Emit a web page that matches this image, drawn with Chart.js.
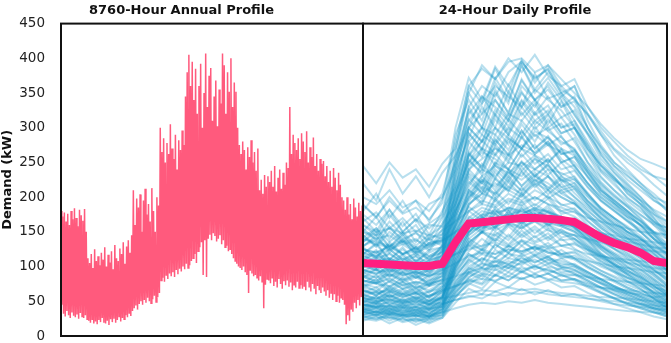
<!DOCTYPE html>
<html>
<head>
<meta charset="utf-8">
<script src="https://cdn.jsdelivr.net/npm/chart.js@4.4.1/dist/chart.umd.min.js"></script>
<style>
  body { margin: 0; background: #fff; }
  #wrap { position: relative; width: 671px; height: 343px; }
  #annual { position: absolute; left: 0; top: 0; }
  #daily { position: absolute; left: 362px; top: 0; }
</style>
</head>
<body>
<div id="wrap">
  <canvas id="annual" width="364" height="343"></canvas>
  <canvas id="daily" width="309" height="343"></canvas>
</div>
<script>
// annual profile, read as pairs of (peak, trough) roughly every two days
const annualHigh = [
  180,172,178,165,176,160,180,168,184,170,158,182,174,166,183,150,
  112,105,118,98,125,108,115,102,120,110,128,100,117,106,122,96,131,112,108,126,118,135,104,129,138,120,
  145,210,160,198,185,204,150,195,212,175,190,165,213,180,150,200,188,
  300,265,285,250,278,262,305,270,255,290,240,282,268,296,275,345,
  380,405,360,395,340,385,320,360,392,300,350,407,330,375,386,310,345,368,302,355,335,407,390,320,380,352,400,330,365,352,300,
  275,262,280,268,240,272,258,282,250,265,238,270,210,225,205,232,215,
  230,222,238,215,245,208,228,240,212,235,218,250,242,330,262,290,278,268,285,255,292,
  280,265,295,250,272,258,286,245,262,238,255,248,
  252,230,245,222,238,215,242,228,210,235,218,200,
  195,182,200,175,190,168,198,185,172,192,180,188
];
const annualLow = [
  45,32,28,36,30,26,34,29,27,31,25,33,28,26,30,24,
  22,19,24,18,21,17,23,20,26,19,18,22,16,24,20,25,19,23,28,21,26,24,30,27,33,29,
  36,40,44,38,46,50,45,52,48,55,50,47,53,58,49,56,62,
  80,84,78,88,82,90,86,92,85,95,89,97,93,100,96,104,
  98,102,108,112,118,105,122,128,135,88,138,85,140,146,138,148,144,136,140,145,132,138,128,130,122,125,118,112,108,104,100,
  98,95,100,92,88,62,94,90,86,88,84,80,86,78,40,74,82,
  80,76,84,72,78,70,82,75,68,79,73,80,71,77,66,74,70,78,69,73,68,
  72,66,78,70,64,75,68,60,72,66,62,70,
  64,58,66,55,62,52,60,50,58,48,55,52,
  45,17,30,22,38,35,48,40,52,44,56,50
];

const hours = ['0','1','2','3','4','5','6','7','8','9','10','11','12','13','14','15','16','17','18','19','20','21','22','23'];

// average day
const meanDay = [105,104,103,102,101,101,104,135,162,164,166,168,170,170,169,167,164,153,142,134,128,120,108,105];

// individual days (a sample of the 365 thin lines)
const dailyProfiles = [
  [150,140,145,132,138,130,142,250,330,360,345,380,395,370,385,350,330,300,260,240,220,200,180,165],
  [130,138,125,132,120,128,135,220,300,320,340,310,350,330,365,340,310,280,250,230,205,190,170,150],
  [160,150,155,148,152,145,158,270,350,390,370,400,380,405,375,360,340,320,290,260,240,220,200,180],
  [120,115,125,110,118,112,122,200,280,300,290,320,310,335,300,315,290,260,230,210,190,175,160,140],
  [140,132,128,136,125,130,138,240,310,335,360,345,330,355,340,325,300,275,240,225,210,195,175,155],
  [110,118,105,112,100,108,115,190,260,290,275,300,285,310,295,280,270,240,215,195,180,160,145,125],
  [200,190,210,185,195,180,205,280,360,385,370,395,400,380,390,370,350,330,300,280,260,245,230,215],
  [125,120,130,118,128,115,126,230,320,345,330,310,360,340,320,345,320,290,255,235,215,195,170,145],
  [175,160,182,150,168,155,172,290,340,310,365,335,390,350,372,345,360,310,275,250,232,215,196,182],
  [135,150,128,145,122,140,130,235,285,330,300,352,318,340,305,338,300,268,238,222,198,186,160,148],
  [145,128,150,135,140,122,148,260,300,345,318,362,330,378,342,350,318,292,262,236,218,200,178,160],
  [118,132,110,125,108,120,128,210,265,242,290,268,305,280,312,286,268,244,220,200,186,168,150,134],
  [165,178,155,170,150,162,175,255,325,300,350,322,368,340,355,330,338,300,272,250,236,220,205,188],
  [102,115,98,108,95,104,112,205,250,282,262,290,270,302,275,288,262,236,212,192,176,158,140,120],
  [128,112,135,118,126,108,130,245,300,280,326,302,340,318,332,300,310,275,246,228,206,190,165,142],
  [188,172,195,176,185,168,192,300,372,340,388,360,395,372,384,355,342,318,290,268,250,236,218,202],
  [142,155,136,150,130,146,140,228,292,268,312,290,322,298,318,292,300,262,236,218,200,184,165,150],
  [112,98,120,104,115,96,118,218,268,300,278,312,290,322,296,306,280,250,222,204,186,170,148,126],
  [180,205,170,195,165,190,200,240,330,300,355,320,370,340,360,330,345,300,270,245,225,210,195,185],
  [160,145,175,150,168,140,170,210,300,280,320,295,338,310,325,300,305,270,245,225,210,190,175,165],
  [220,195,240,205,230,200,235,260,350,320,372,340,390,355,380,350,360,320,295,270,255,240,230,225],
  [150,172,140,165,135,160,158,200,280,258,300,276,310,288,300,276,285,250,228,210,195,180,165,155],
  [190,170,200,178,195,165,198,250,312,290,340,315,352,320,345,315,325,292,265,245,230,215,200,192],
  [135,155,128,148,124,142,146,182,255,232,272,250,286,262,276,250,258,230,208,192,178,165,150,140],
  [170,150,182,158,176,146,180,215,292,270,318,290,330,305,320,292,300,270,246,228,212,196,182,172],
  [245,220,250,228,240,215,248,270,360,335,385,350,398,365,390,360,370,330,305,285,268,255,248,240],
  [145,130,158,136,150,125,154,175,240,220,262,240,270,248,262,240,246,220,200,186,172,160,150,146],
  [128,146,120,140,116,134,138,168,232,212,250,230,262,240,254,232,238,214,194,180,166,154,140,130],
  [155,138,165,145,160,132,162,190,262,240,284,260,296,270,286,262,268,240,218,202,188,174,162,156],
  [118,134,110,128,106,124,128,158,210,192,228,210,238,218,230,210,216,194,176,162,150,140,128,120],
  [95,90,100,88,92,86,96,170,220,240,230,250,245,260,240,235,225,205,185,170,155,140,125,110],
  [105,98,110,95,102,92,108,180,240,255,270,260,275,265,280,255,240,215,195,180,165,150,135,118],
  [85,80,88,78,84,76,86,150,200,215,205,225,210,230,220,205,195,180,165,150,140,128,112,95],
  [115,108,112,104,110,100,118,190,250,270,260,285,270,290,275,265,250,230,205,190,175,160,140,125],
  [90,96,86,92,84,90,98,160,210,230,245,235,250,240,255,230,220,200,180,165,150,135,120,100],
  [100,95,92,98,90,94,102,175,235,220,250,240,230,255,245,225,215,195,178,162,150,138,122,108],
  [80,76,84,72,78,74,82,145,190,205,220,210,200,225,215,200,190,175,160,148,135,122,105,88],
  [110,104,100,106,98,102,112,185,245,265,255,240,270,260,250,270,245,220,200,185,170,150,132,118],
  [120,112,118,108,115,105,122,195,260,280,300,285,270,295,285,270,260,235,210,195,180,165,145,130],
  [88,84,90,80,86,78,92,155,205,225,215,235,225,240,230,215,200,185,170,155,142,130,114,96],
  [98,110,92,104,88,100,106,182,215,248,226,262,238,256,232,250,228,206,182,168,150,142,124,108],
  [88,78,95,82,90,74,92,165,198,225,204,238,216,232,210,226,206,188,168,152,140,126,110,94],
  [108,122,100,116,96,110,115,192,238,270,246,282,258,276,250,268,244,220,196,182,166,150,132,116],
  [76,88,70,84,68,80,86,150,188,212,194,222,202,218,198,210,192,176,158,144,132,118,100,84],
  [118,104,125,110,120,98,124,205,252,236,276,254,288,262,280,250,258,228,204,190,172,160,140,124],
  [92,84,98,86,94,80,96,172,210,198,236,214,244,222,240,214,220,194,176,160,146,134,118,100],
  [102,94,108,92,104,88,110,176,228,206,246,226,252,230,248,224,230,204,184,170,156,140,124,110],
  [84,96,78,92,74,88,90,158,194,222,200,230,208,226,204,220,200,182,164,150,136,124,108,90],
  [126,114,132,118,128,110,130,208,262,244,282,262,296,270,288,262,266,236,210,196,180,166,148,132],
  [72,82,66,78,64,76,80,142,180,166,198,182,206,188,202,180,184,166,150,138,124,112,96,80],
  [96,88,102,90,98,84,100,150,186,172,208,190,214,196,210,188,192,172,156,142,130,120,106,94],
  [112,124,106,118,102,114,120,180,222,206,240,222,250,230,246,222,226,202,184,170,158,144,128,114],
  [86,76,90,80,88,72,88,128,164,150,182,166,188,172,184,164,168,152,138,126,116,106,94,84],
  [104,96,110,98,106,92,108,160,206,190,226,208,236,214,230,206,212,190,172,158,146,132,118,106],
  [92,104,86,98,84,96,100,166,200,230,210,240,216,236,212,230,212,190,170,156,142,130,112,96],
  [65,60,68,58,62,56,66,120,160,175,170,185,180,190,178,172,165,150,135,125,112,100,88,72],
  [55,52,58,50,54,48,56,105,145,160,155,170,165,175,162,158,150,138,125,112,100,90,78,62],
  [75,70,78,68,72,66,76,135,180,195,188,205,195,210,200,190,182,165,150,138,125,112,96,82],
  [60,64,56,62,54,58,66,115,155,170,182,165,175,185,170,165,158,145,130,118,106,96,82,68],
  [70,66,62,68,60,64,72,128,170,185,178,195,188,200,190,180,172,158,142,130,118,105,90,76],
  [50,48,54,46,52,44,55,98,135,150,145,160,155,165,152,148,140,128,115,104,94,84,72,58],
  [80,75,72,78,70,74,82,140,190,205,198,215,205,220,210,200,190,172,155,142,130,118,102,88],
  [58,54,60,52,56,50,60,110,150,168,160,175,170,182,168,162,155,140,128,115,104,92,80,64],
  [62,70,56,66,54,64,68,124,150,172,156,180,162,176,158,172,156,142,128,118,106,96,82,68],
  [52,46,58,48,55,44,56,100,128,150,136,158,142,154,138,150,136,124,112,102,92,84,72,58],
  [68,58,72,62,70,56,72,132,168,152,186,168,194,172,188,166,170,152,138,126,114,104,90,74],
  [48,56,44,52,42,50,54,94,122,140,126,146,130,144,128,140,126,114,102,94,84,76,64,52],
  [74,64,80,68,76,62,78,138,172,160,196,176,204,182,198,176,180,160,144,132,120,108,94,80],
  [56,64,50,60,48,58,62,110,140,128,158,142,166,148,162,142,146,130,118,108,98,88,76,62],
  [66,58,70,60,68,54,70,90,118,106,132,120,138,124,134,118,122,110,100,92,84,78,70,66],
  [44,50,40,48,38,46,48,70,90,82,102,92,108,96,104,92,94,84,76,70,64,58,52,46],
  [60,52,64,56,62,50,64,84,110,98,124,112,130,116,126,112,116,104,94,86,78,72,64,58],
  [50,58,46,54,44,52,56,102,130,118,146,132,152,136,148,130,134,120,108,98,90,80,68,54],
  [70,78,64,74,62,72,76,128,160,148,176,160,184,166,178,160,162,146,132,120,110,100,86,72],
  [54,48,60,50,58,46,58,104,136,124,150,138,158,142,154,138,140,126,114,104,94,86,74,60],
  [35,30,32,28,30,26,34,70,95,105,100,112,108,118,110,105,100,90,80,70,60,52,45,38],
  [28,25,30,22,26,20,28,60,85,95,102,98,105,110,100,96,90,80,70,60,52,45,38,32],
  [40,36,38,34,36,32,42,78,105,118,112,125,120,130,122,115,110,98,88,78,68,58,50,44],
  [30,28,26,24,22,25,30,65,90,100,108,104,112,106,115,100,95,85,75,65,56,48,40,34],
  [45,42,44,40,42,38,46,85,112,125,118,130,122,128,120,118,112,100,90,80,70,62,55,48],
  [25,22,28,20,24,18,26,55,80,90,86,98,92,100,95,88,82,74,64,55,46,40,34,28],
  [38,34,36,30,34,28,38,72,100,112,106,118,115,122,112,108,102,92,82,72,62,54,46,40],
  [32,35,30,33,28,31,36,68,92,104,98,108,102,115,106,100,96,86,76,66,58,50,42,36],
  [30,36,26,32,24,30,34,62,84,98,88,104,92,102,90,98,90,80,70,62,54,46,40,34],
  [40,34,44,36,42,32,44,80,96,112,100,120,106,116,104,112,102,92,82,72,64,56,48,42],
  [26,32,22,30,20,28,30,56,76,68,88,80,94,84,90,80,82,72,62,54,46,40,34,28],
  [36,30,40,32,38,28,40,74,92,86,108,98,114,100,110,98,100,88,78,68,60,52,44,38],
  [42,48,38,46,36,44,48,88,108,124,112,130,118,128,114,124,112,100,90,80,70,62,54,46],
  [22,28,18,26,16,24,26,48,68,60,78,70,84,74,80,70,72,62,54,46,40,34,28,24],
  [34,40,30,38,28,36,38,64,82,76,96,86,100,90,98,86,88,78,68,60,52,46,40,36],
  [46,40,50,42,48,38,50,92,118,108,132,120,136,124,130,118,120,106,94,84,74,66,58,50],
  [28,24,32,26,30,22,32,58,74,88,78,92,82,90,80,88,80,70,62,54,48,42,36,30],
  [38,44,34,42,32,40,42,76,98,90,112,102,118,106,114,102,104,92,82,72,64,56,48,42],
  [45,40,42,36,40,34,46,110,150,165,170,175,168,180,172,165,158,140,120,105,90,78,62,50],
  [38,34,36,30,34,28,40,100,140,155,162,170,160,172,165,158,150,132,112,98,84,72,58,44],
  [50,46,48,42,46,40,52,120,160,175,178,182,175,185,178,170,162,145,125,110,95,82,68,55],
  [32,30,34,28,30,26,36,95,135,150,158,165,155,168,160,152,145,128,108,95,80,68,54,40],
  [42,38,40,34,38,32,44,105,145,160,165,172,162,176,168,160,152,136,116,102,88,75,60,48],
  [55,50,52,48,50,46,56,125,165,180,175,185,178,182,180,172,165,150,130,115,100,86,72,60],
  [48,42,52,44,50,40,52,115,148,172,156,180,164,178,160,172,156,138,118,102,88,76,62,52],
  [36,42,32,40,30,38,42,98,132,150,138,162,146,158,142,154,140,124,104,92,78,68,54,42],
  [140,135,130,138,128,132,136,150,160,170,165,175,180,172,168,160,158,150,148,145,140,138,135,132],
  [110,105,112,102,108,100,110,118,125,130,135,128,138,132,126,130,124,118,115,112,110,108,105,102],
  [80,76,82,74,78,72,80,86,92,98,95,102,96,100,94,90,88,85,82,80,78,76,74,72],
  [55,50,54,48,52,46,54,58,62,66,64,70,66,68,64,62,60,58,56,55,54,52,50,48],
  [35,32,34,30,32,28,34,40,45,48,46,50,48,52,48,46,44,42,40,38,36,35,34,32],
  [95,90,96,88,92,86,95,105,115,120,118,125,122,128,120,116,112,108,104,100,98,95,92,90],
  [125,120,128,118,122,115,125,140,150,158,152,162,158,165,156,150,145,140,135,130,128,125,122,120],
  [65,62,66,60,64,58,66,72,78,82,80,86,82,88,82,78,76,72,70,68,66,64,62,60],
  [45,42,44,40,42,38,46,52,56,60,58,62,60,64,60,58,56,54,52,50,48,46,44,42],
  [150,145,155,140,148,138,152,165,180,190,185,198,192,200,190,185,178,170,165,160,155,150,148,145],
  [60,54,64,56,62,50,64,72,80,74,88,80,92,84,90,80,82,76,70,66,62,60,56,58],
  [100,112,94,106,92,104,108,118,132,124,140,130,146,134,142,130,132,124,116,110,106,102,98,96],
  [130,142,124,136,120,134,138,150,166,156,176,162,184,170,180,164,168,156,148,140,136,132,128,126],
  [40,46,36,44,34,42,46,52,58,54,64,58,68,60,66,58,60,54,50,46,44,42,40,38]
];

const titleFont = { family: 'DejaVu Sans', size: 13, weight: 'bold' };

// black frame round each plot area
const framePlugin = {
  id: 'frame',
  afterDraw(chart) {
    const a = chart.chartArea, ctx = chart.ctx;
    ctx.save();
    ctx.strokeStyle = '#111';
    ctx.lineWidth = 2;
    ctx.strokeRect(a.left, a.top, a.right - a.left, a.bottom - a.top);
    ctx.restore();
  }
};

let zig = [], zigLabels = [];
for (let i = 0; i < annualHigh.length; i++) {
  zig.push(annualHigh[i], annualLow[i]);
  zigLabels.push(String(2 * i), String(2 * i + 1));
}

new Chart(document.getElementById('annual'), {
  type: 'line',
  data: {
    labels: zigLabels,
    datasets: [{
      data: zig,
      borderColor: '#ff5a7d',
      borderWidth: 1.5,
      pointRadius: 0,
      tension: 0
    }]
  },
  options: {
    responsive: false,
    animation: false,
    layout: { padding: { top: 0, bottom: 7, right: 1, left: 0 } },
    plugins: {
      legend: { display: false },
      tooltip: { enabled: false },
      title: { display: true, text: '8760-Hour Annual Profile', color: '#111', font: titleFont, padding: { top: 3, bottom: 5 } }
    },
    scales: {
      x: { display: false },
      y: {
        min: 0, max: 450,
        ticks: { stepSize: 50, color: '#222', padding: 8, font: { family: 'DejaVu Sans', size: 13.5 } },
        grid: { display: false },
        border: { display: false },
        title: { display: true, text: 'Demand (kW)', color: '#111', font: titleFont, padding: 0 },
        afterFit(scale) {
          scale.width = 61;
          scale.paddingTop = 0;
          scale.paddingBottom = 0;
        }
      }
    }
  },
  plugins: [framePlugin]
});

let dailySets = [{
  data: meanDay,
  borderColor: '#ff1f80',
  borderWidth: 8,
  pointRadius: 0,
  tension: 0
}];
dailyProfiles.forEach(function(day) {
  dailySets.push({
    data: day,
    borderColor: 'rgba(20,150,200,0.3)',
    borderWidth: 2,
    pointRadius: 0,
    tension: 0
  });
});

new Chart(document.getElementById('daily'), {
  type: 'line',
  data: { labels: hours, datasets: dailySets },
  options: {
    responsive: false,
    animation: false,
    layout: { padding: { top: 0, bottom: 7, right: 4, left: 1 } },
    plugins: {
      legend: { display: false },
      tooltip: { enabled: false },
      title: { display: true, text: '24-Hour Daily Profile', color: '#111', font: titleFont, padding: { top: 3, bottom: 5 } }
    },
    scales: {
      x: { display: false },
      y: { display: false, min: 0, max: 450 }
    }
  },
  plugins: [framePlugin]
});
</script>
</body>
</html>
